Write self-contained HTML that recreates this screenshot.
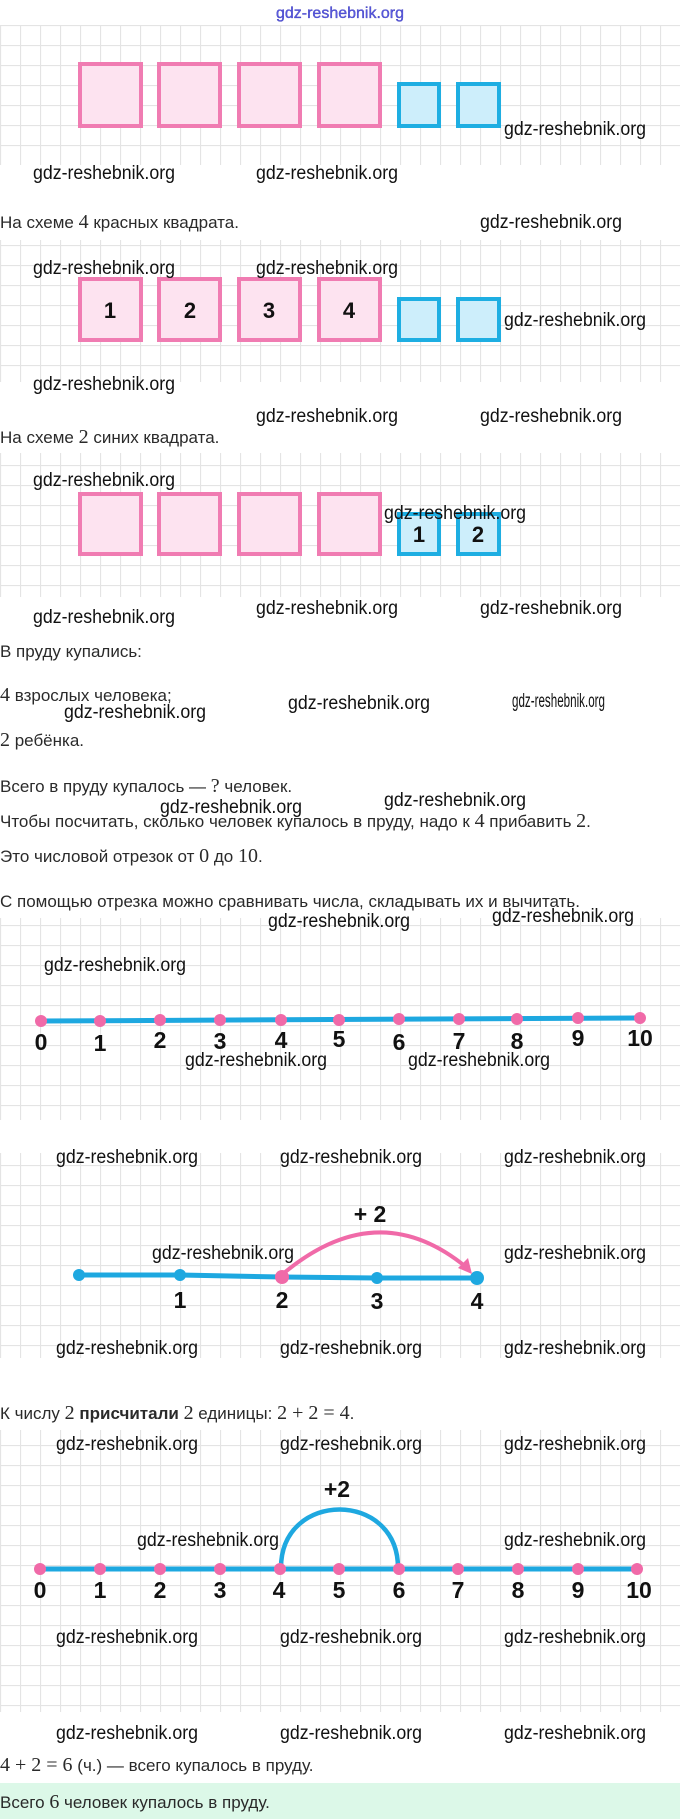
<!DOCTYPE html>
<html><head><meta charset="utf-8"><style>
html,body{margin:0;padding:0;background:#fff;}
svg{display:block;}
.t{font-family:"Liberation Sans",sans-serif;font-size:17px;fill:#2a2a2a;}
.m{font-family:"Liberation Serif",serif;font-size:20px;fill:#2a2a2a;}
.w{font-family:"Liberation Sans",sans-serif;font-size:19px;fill:#111;}
.n{font-family:"Liberation Sans",sans-serif;font-size:23px;font-weight:bold;fill:#111;text-anchor:middle;}
.sq{font-family:"Liberation Sans",sans-serif;font-size:22px;font-weight:bold;fill:#111;text-anchor:middle;}
</style></head><body>
<svg width="680" height="1819" viewBox="0 0 680 1819" xmlns="http://www.w3.org/2000/svg">
<defs>
<pattern id="g" width="20" height="20" patternUnits="userSpaceOnUse" x="0" y="5">
<rect width="20" height="20" fill="#fff"/>
<path d="M0 0.5H20M0.5 0V20" stroke="#e4e4e4" stroke-width="1.2" fill="none"/>
</pattern>
</defs>
<rect x="0" y="25" width="680" height="140" fill="url(#g)"/>
<rect x="0" y="240" width="680" height="142" fill="url(#g)"/>
<rect x="0" y="453" width="680" height="144" fill="url(#g)"/>
<rect x="0" y="918" width="680" height="202" fill="url(#g)"/>
<rect x="0" y="1153" width="680" height="205" fill="url(#g)"/>
<rect x="0" y="1430" width="680" height="282" fill="url(#g)"/>
<rect x="0" y="1783" width="680" height="36" fill="#dcf8e8"/>

<text x="340" y="18" text-anchor="middle" font-family="Liberation Sans,sans-serif" font-size="16" fill="#5c5ce0" stroke="#2a2ab0" stroke-width="0.3" textLength="128" lengthAdjust="spacingAndGlyphs">gdz-reshebnik.org</text>

<g stroke="#f07cb2" stroke-width="4" fill="#fde3f0">
<rect x="80" y="64" width="61" height="62"/><rect x="159" y="64" width="61" height="62"/><rect x="239" y="64" width="61" height="62"/><rect x="319" y="64" width="61" height="62"/>
<rect x="80" y="279" width="61" height="61"/><rect x="159" y="279" width="61" height="61"/><rect x="239" y="279" width="61" height="61"/><rect x="319" y="279" width="61" height="61"/>
<rect x="80" y="494" width="61" height="60"/><rect x="159" y="494" width="61" height="60"/><rect x="239" y="494" width="61" height="60"/><rect x="319" y="494" width="61" height="60"/>
</g>
<g stroke="#1eaee2" stroke-width="4" fill="#cdeefb">
<rect x="399" y="84" width="40" height="42"/><rect x="458" y="84" width="41" height="42"/>
<rect x="399" y="299" width="40" height="41"/><rect x="458" y="299" width="41" height="41"/>
<rect x="399" y="514" width="40" height="40"/><rect x="458" y="514" width="41" height="40"/>
</g>
<text class="sq" x="110" y="318">1</text><text class="sq" x="190" y="318">2</text><text class="sq" x="269" y="318">3</text><text class="sq" x="349" y="318">4</text>
<text class="sq" x="419" y="542">1</text><text class="sq" x="478" y="542">2</text>

<text class="t" x="0" y="228">На схеме <tspan class="m">4</tspan> красных квадрата.</text>
<text class="t" x="0" y="443">На схеме <tspan class="m">2</tspan> синих квадрата.</text>
<text class="t" x="0" y="657">В пруду купались:</text>
<text class="t" x="0" y="701"><tspan class="m">4</tspan> взрослых человека;</text>
<text class="t" x="0" y="746"><tspan class="m">2</tspan> ребёнка.</text>
<text class="t" x="0" y="792">Всего в пруду купалось — <tspan class="m">?</tspan> человек.</text>
<text class="t" x="0" y="827">Чтобы посчитать, сколько человек купалось в пруду, надо к <tspan class="m">4</tspan> прибавить <tspan class="m">2</tspan>.</text>
<text class="t" x="0" y="862">Это числовой отрезок от <tspan class="m">0</tspan> до <tspan class="m">10</tspan>.</text>
<text class="t" x="0" y="907">С помощью отрезка можно сравнивать числа, складывать их и вычитать.</text>
<text class="t" x="0" y="1419">К числу <tspan class="m">2</tspan> <tspan font-weight="bold">присчитали</tspan> <tspan class="m">2</tspan> единицы: <tspan class="m">2 + 2 = 4</tspan>.</text>
<text class="t" x="0" y="1771"><tspan class="m">4 + 2 = 6</tspan> (ч.) — всего купалось в пруду.</text>
<text class="t" x="0" y="1808">Всего <tspan class="m">6</tspan> человек купалось в пруду.</text>

<line x1="41" y1="1021" x2="640" y2="1018" stroke="#1ea8e0" stroke-width="5"/>
<g fill="#f06aa8">
<circle cx="41" cy="1021" r="6"/><circle cx="100" cy="1021" r="6"/><circle cx="160" cy="1020" r="6"/><circle cx="220" cy="1020" r="6"/><circle cx="281" cy="1020" r="6"/><circle cx="339" cy="1020" r="6"/><circle cx="399" cy="1019" r="6"/><circle cx="459" cy="1019" r="6"/><circle cx="517" cy="1019" r="6"/><circle cx="578" cy="1018" r="6"/><circle cx="640" cy="1018" r="6"/>
</g>
<text class="n" x="41" y="1050">0</text><text class="n" x="100" y="1051">1</text><text class="n" x="160" y="1048">2</text><text class="n" x="220" y="1049">3</text><text class="n" x="281" y="1048">4</text><text class="n" x="339" y="1047">5</text><text class="n" x="399" y="1050">6</text><text class="n" x="459" y="1049">7</text><text class="n" x="517" y="1049">8</text><text class="n" x="578" y="1046">9</text><text class="n" x="640" y="1046">10</text>

<polyline points="79,1275 180,1275 282,1277 377,1278 477,1278" fill="none" stroke="#1ea8e0" stroke-width="5"/>
<g fill="#1ea8e0"><circle cx="79" cy="1275" r="6"/><circle cx="180" cy="1275" r="6"/><circle cx="377" cy="1278" r="6"/><circle cx="477" cy="1278" r="7"/></g>
<circle cx="282" cy="1277" r="7" fill="#f06aa8"/>
<path d="M284 1273 Q378 1195 466 1267" fill="none" stroke="#f06aa8" stroke-width="4"/>
<path d="M472 1274 L458 1268 L468 1258 Z" fill="#f06aa8"/>
<text class="n" x="180" y="1308">1</text><text class="n" x="282" y="1308">2</text><text class="n" x="377" y="1309">3</text><text class="n" x="477" y="1309">4</text>
<text class="n" x="370" y="1222" font-size="21">+ 2</text>

<path d="M281 1568 C281 1490 398 1490 398 1568" fill="none" stroke="#1ea8e0" stroke-width="4.5"/>
<line x1="40" y1="1569" x2="637" y2="1569" stroke="#1ea8e0" stroke-width="5"/>
<g fill="#f06aa8">
<circle cx="40" cy="1569" r="6"/><circle cx="100" cy="1569" r="6"/><circle cx="160" cy="1569" r="6"/><circle cx="220" cy="1569" r="6"/><circle cx="280" cy="1569" r="6"/><circle cx="339" cy="1569" r="6"/><circle cx="399" cy="1569" r="6"/><circle cx="458" cy="1569" r="6"/><circle cx="518" cy="1569" r="6"/><circle cx="578" cy="1569" r="6"/><circle cx="637" cy="1569" r="6"/>
</g>
<text class="n" font-size="25" x="40" y="1598">0</text><text class="n" font-size="25" x="100" y="1598">1</text><text class="n" font-size="25" x="160" y="1598">2</text><text class="n" font-size="25" x="220" y="1598">3</text><text class="n" font-size="25" x="279" y="1598">4</text><text class="n" font-size="25" x="339" y="1598">5</text><text class="n" font-size="25" x="399" y="1598">6</text><text class="n" font-size="25" x="458" y="1598">7</text><text class="n" font-size="25" x="518" y="1598">8</text><text class="n" font-size="25" x="578" y="1598">9</text><text class="n" font-size="25" x="639" y="1598">10</text>
<text class="n" x="337" y="1497" font-size="22">+2</text>

<g>
<text class="w" x="504" y="135" textLength="142" lengthAdjust="spacingAndGlyphs">gdz-reshebnik.org</text>
<text class="w" x="33" y="179" textLength="142" lengthAdjust="spacingAndGlyphs">gdz-reshebnik.org</text>
<text class="w" x="256" y="179" textLength="142" lengthAdjust="spacingAndGlyphs">gdz-reshebnik.org</text>
<text class="w" x="480" y="228" textLength="142" lengthAdjust="spacingAndGlyphs">gdz-reshebnik.org</text>
<text class="w" x="33" y="274" textLength="142" lengthAdjust="spacingAndGlyphs">gdz-reshebnik.org</text>
<text class="w" x="256" y="274" textLength="142" lengthAdjust="spacingAndGlyphs">gdz-reshebnik.org</text>
<text class="w" x="504" y="326" textLength="142" lengthAdjust="spacingAndGlyphs">gdz-reshebnik.org</text>
<text class="w" x="33" y="390" textLength="142" lengthAdjust="spacingAndGlyphs">gdz-reshebnik.org</text>
<text class="w" x="256" y="422" textLength="142" lengthAdjust="spacingAndGlyphs">gdz-reshebnik.org</text>
<text class="w" x="480" y="422" textLength="142" lengthAdjust="spacingAndGlyphs">gdz-reshebnik.org</text>
<text class="w" x="33" y="486" textLength="142" lengthAdjust="spacingAndGlyphs">gdz-reshebnik.org</text>
<text class="w" x="384" y="519" textLength="142" lengthAdjust="spacingAndGlyphs">gdz-reshebnik.org</text>
<text class="w" x="33" y="623" textLength="142" lengthAdjust="spacingAndGlyphs">gdz-reshebnik.org</text>
<text class="w" x="256" y="614" textLength="142" lengthAdjust="spacingAndGlyphs">gdz-reshebnik.org</text>
<text class="w" x="480" y="614" textLength="142" lengthAdjust="spacingAndGlyphs">gdz-reshebnik.org</text>
<text class="w" x="64" y="718" textLength="142" lengthAdjust="spacingAndGlyphs">gdz-reshebnik.org</text>
<text class="w" x="288" y="709" textLength="142" lengthAdjust="spacingAndGlyphs">gdz-reshebnik.org</text>
<text class="w" x="512" y="707" font-size="12" textLength="93" lengthAdjust="spacingAndGlyphs">gdz-reshebnik.org</text>
<text class="w" x="160" y="813" textLength="142" lengthAdjust="spacingAndGlyphs">gdz-reshebnik.org</text>
<text class="w" x="384" y="806" textLength="142" lengthAdjust="spacingAndGlyphs">gdz-reshebnik.org</text>
<text class="w" x="268" y="927" textLength="142" lengthAdjust="spacingAndGlyphs">gdz-reshebnik.org</text>
<text class="w" x="492" y="922" textLength="142" lengthAdjust="spacingAndGlyphs">gdz-reshebnik.org</text>
<text class="w" x="44" y="971" textLength="142" lengthAdjust="spacingAndGlyphs">gdz-reshebnik.org</text>
<text class="w" x="185" y="1066" textLength="142" lengthAdjust="spacingAndGlyphs">gdz-reshebnik.org</text>
<text class="w" x="408" y="1066" textLength="142" lengthAdjust="spacingAndGlyphs">gdz-reshebnik.org</text>
<text class="w" x="56" y="1163" textLength="142" lengthAdjust="spacingAndGlyphs">gdz-reshebnik.org</text>
<text class="w" x="280" y="1163" textLength="142" lengthAdjust="spacingAndGlyphs">gdz-reshebnik.org</text>
<text class="w" x="504" y="1163" textLength="142" lengthAdjust="spacingAndGlyphs">gdz-reshebnik.org</text>
<text class="w" x="152" y="1259" textLength="142" lengthAdjust="spacingAndGlyphs">gdz-reshebnik.org</text>
<text class="w" x="504" y="1259" textLength="142" lengthAdjust="spacingAndGlyphs">gdz-reshebnik.org</text>
<text class="w" x="56" y="1354" textLength="142" lengthAdjust="spacingAndGlyphs">gdz-reshebnik.org</text>
<text class="w" x="280" y="1354" textLength="142" lengthAdjust="spacingAndGlyphs">gdz-reshebnik.org</text>
<text class="w" x="504" y="1354" textLength="142" lengthAdjust="spacingAndGlyphs">gdz-reshebnik.org</text>
<text class="w" x="56" y="1450" textLength="142" lengthAdjust="spacingAndGlyphs">gdz-reshebnik.org</text>
<text class="w" x="280" y="1450" textLength="142" lengthAdjust="spacingAndGlyphs">gdz-reshebnik.org</text>
<text class="w" x="504" y="1450" textLength="142" lengthAdjust="spacingAndGlyphs">gdz-reshebnik.org</text>
<text class="w" x="137" y="1546" textLength="142" lengthAdjust="spacingAndGlyphs">gdz-reshebnik.org</text>
<text class="w" x="504" y="1546" textLength="142" lengthAdjust="spacingAndGlyphs">gdz-reshebnik.org</text>
<text class="w" x="56" y="1643" textLength="142" lengthAdjust="spacingAndGlyphs">gdz-reshebnik.org</text>
<text class="w" x="280" y="1643" textLength="142" lengthAdjust="spacingAndGlyphs">gdz-reshebnik.org</text>
<text class="w" x="504" y="1643" textLength="142" lengthAdjust="spacingAndGlyphs">gdz-reshebnik.org</text>
<text class="w" x="56" y="1739" textLength="142" lengthAdjust="spacingAndGlyphs">gdz-reshebnik.org</text>
<text class="w" x="280" y="1739" textLength="142" lengthAdjust="spacingAndGlyphs">gdz-reshebnik.org</text>
<text class="w" x="504" y="1739" textLength="142" lengthAdjust="spacingAndGlyphs">gdz-reshebnik.org</text>
</g>
</svg>
</body></html>
